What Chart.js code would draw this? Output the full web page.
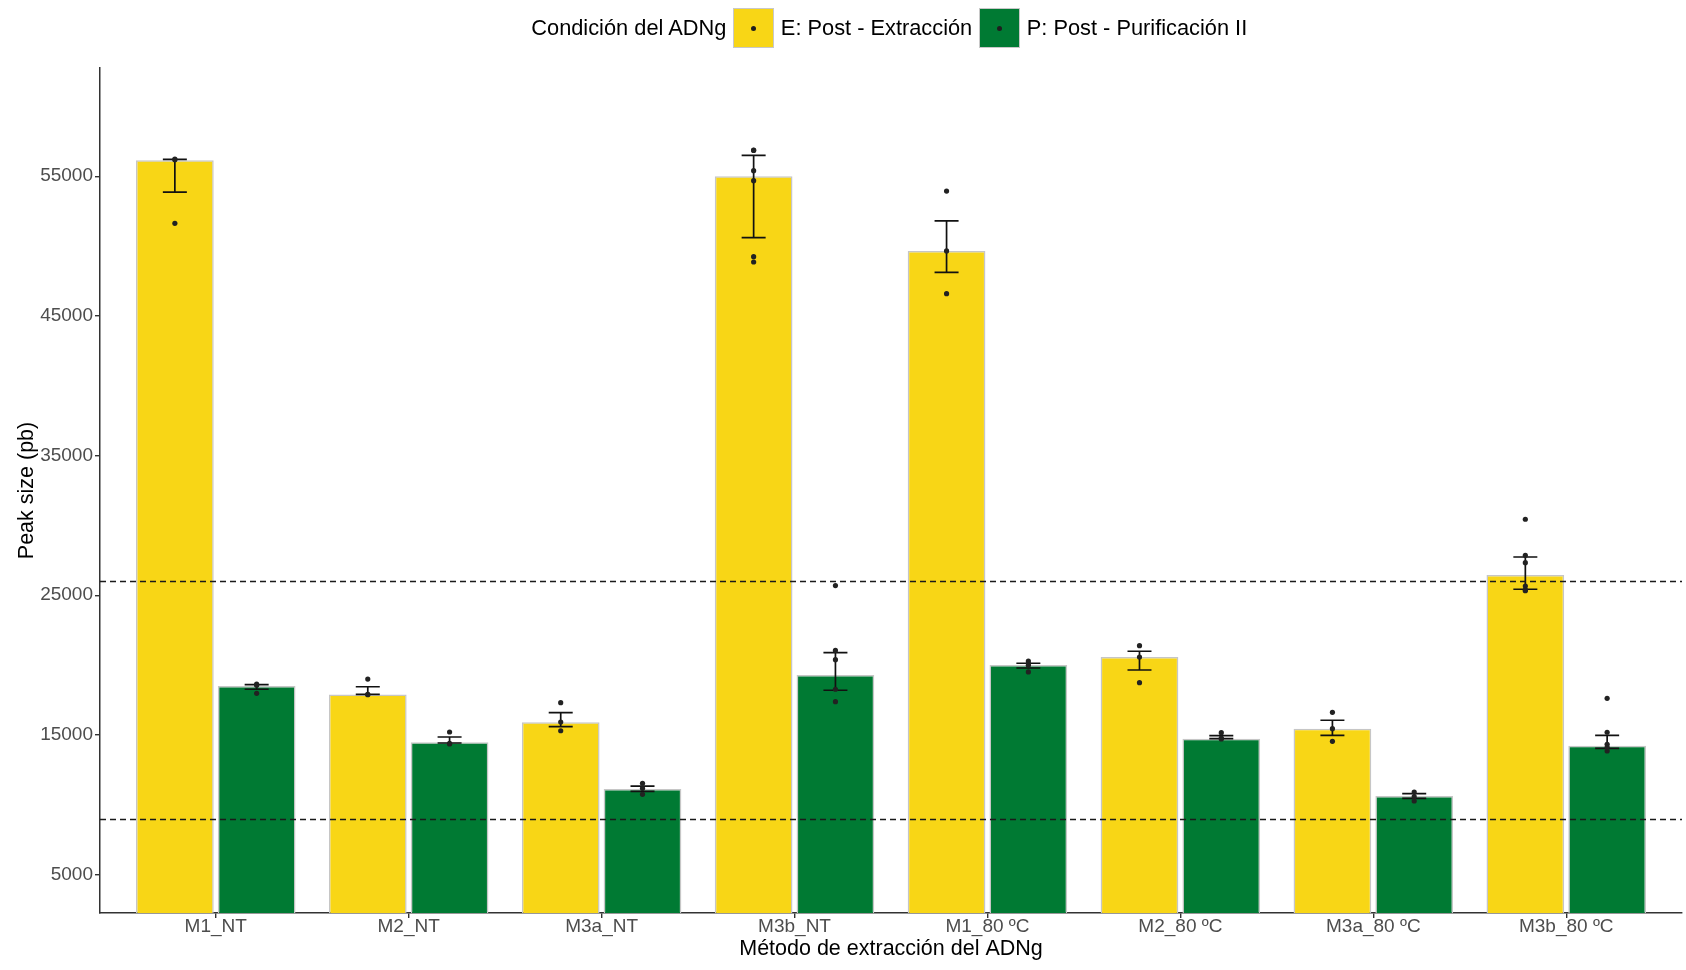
<!DOCTYPE html>
<html lang="es">
<head>
<meta charset="utf-8">
<title>Peak size según método de extracción del ADNg</title>
<script src="https://cdn.jsdelivr.net/npm/chart.js@4/dist/chart.umd.min.js"></script>
<style>
  html, body { margin: 0; padding: 0; background: #ffffff; }
  #wrap { position: relative; width: 1686px; height: 970px; font-family: 'Liberation Sans', Arial, sans-serif; }
  #legend {
    position: absolute; left: 100px; top: 8px; width: 1585px; height: 40px;
    display: flex; justify-content: center; align-items: center;
    font-size: 21.8px; color: #000; white-space: nowrap;
  }
  #legend .title { margin-right: 6.5px; }
  #legend .key {
    position: relative; width: 41px; height: 40px; box-sizing: border-box;
    border: 1.5px solid #c8c8c8; margin-right: 7px;
  }
  #legend .key::after {
    content: ''; position: absolute; left: 50%; top: 50%; width: 5px; height: 5px;
    margin: -2.5px 0 0 -2.5px; border-radius: 50%; background: #1e1e1e;
  }
  #legend .label { margin-right: 6.5px; }
  canvas { display: block; }
</style>
</head>
<body>
<div id="wrap">
  <canvas id="chart" width="1686" height="970"></canvas>
  <div id="legend"></div>
</div>
<script>
// Métodos de extracción (eje x)
const categories = ['M1_NT', 'M2_NT', 'M3a_NT', 'M3b_NT', 'M1_80 ºC', 'M2_80 ºC', 'M3a_80 ºC', 'M3b_80 ºC'];

// Marcas del eje y
const yTicks = [5000, 15000, 25000, 35000, 45000, 55000];

// Condición E: Post - Extracción
const extractionBar  = [56150, 17900, 15900, 55000, 49650, 20580, 15450, 26450];
const extractionLow  = [53870, 17900, 15590, 50600, 48120, 19650, 14970, 25430];
const extractionHigh = [56210, 18450, 16590, 56500, 51800, 20990, 16050, 27740];
const extractionReps = [
  [56230, 56180, 51630],
  [19000, 17910, 17880],
  [17310, 15920, 15300],
  [56880, 56850, 55400, 54680, 49240, 48860],
  [53940, 49650, 46590],
  [21390, 20580, 18740],
  [16620, 15450, 14540],
  [30440, 27860, 27330, 25660, 25380, 25330]
];

// Condición P: Post - Purificación II
const purificationBar  = [18500, 14470, 11130, 19290, 20000, 14730, 10630, 14230];
const purificationLow  = [18270, 14420, 10960, 18200, 19790, 14730, 10460, 14040];
const purificationHigh = [18600, 14850, 11340, 20890, 20130, 14950, 10790, 14970];
const purificationReps = [
  [18630, 18550, 17980],
  [15210, 14400, 14350],
  [11540, 11180, 10750],
  [25690, 21050, 20390, 18270, 17380],
  [20290, 20130, 19990, 19510],
  [15160, 14780, 14710],
  [10910, 10580, 10270],
  [17620, 15190, 14330, 14110, 13850]
];

// Umbrales de referencia (líneas discontinuas)
const referenceLines = [9000, 26000];

const conditions = ['E: Post - Extracción', 'P: Post - Purificación II'];
const conditionColors = ['#F8D616', '#007A33'];

// Ancho del grupo de barras dentro de cada categoría
const CATEGORY_PCT = 0.848;
const BAR_PCT = 0.95;
const slotShift = CATEGORY_PCT / 4;

Chart.defaults.font.family = "'Liberation Sans', Arial, sans-serif";

const barPoints = (values) => values.map((v, i) => ({ x: i + 1, y: v }));
const repPoints = (reps, shift) => reps.flatMap((list, i) => list.map(v => ({ x: i + 1 + shift, y: v })));

// Barras de error (sobre cada barra) dibujadas con las escalas del gráfico
const errorBarPlugin = {
  id: 'errorBars',
  afterDatasetDraw(chart, args) {
    const ds = chart.data.datasets[args.index];
    if (!ds.errorLow) return;
    const { ctx } = chart;
    const yScale = chart.scales.y;
    ctx.save();
    ctx.strokeStyle = '#111111';
    ctx.lineWidth = 1.7;
    args.meta.data.forEach((bar, i) => {
      const x = bar.x;
      const yl = yScale.getPixelForValue(ds.errorLow[i]);
      const yh = yScale.getPixelForValue(ds.errorHigh[i]);
      const cap = 12;
      ctx.beginPath();
      ctx.moveTo(x, yl); ctx.lineTo(x, yh);
      ctx.moveTo(x - cap, yl); ctx.lineTo(x + cap, yl);
      ctx.moveTo(x - cap, yh); ctx.lineTo(x + cap, yh);
      ctx.stroke();
    });
    ctx.restore();
  }
};

// Líneas horizontales discontinuas
const referencePlugin = {
  id: 'referenceLines',
  afterDatasetsDraw(chart) {
    const { ctx, chartArea } = chart;
    const yScale = chart.scales.y;
    ctx.save();
    ctx.strokeStyle = '#1a1a1a';
    ctx.lineWidth = 1.4;
    ctx.setLineDash([6, 4]);
    referenceLines.forEach(v => {
      const y = Math.round(yScale.getPixelForValue(v)) + 0.5;
      ctx.beginPath();
      ctx.moveTo(chartArea.left, y);
      ctx.lineTo(chartArea.right, y);
      ctx.stroke();
    });
    ctx.restore();
  }
};

const barStyle = {
  type: 'bar',
  borderColor: '#c6c6c6',
  borderWidth: 1.5,
  borderSkipped: 'start',
  categoryPercentage: CATEGORY_PCT,
  barPercentage: BAR_PCT,
  order: 2
};
const pointStyle = {
  type: 'scatter',
  pointRadius: 2.6,
  pointBackgroundColor: '#222222',
  pointBorderWidth: 0,
  order: 0
};

new Chart(document.getElementById('chart'), {
  type: 'bar',
  data: {
    datasets: [
      { ...barStyle, label: conditions[0], data: barPoints(extractionBar), backgroundColor: conditionColors[0],
        errorLow: extractionLow, errorHigh: extractionHigh },
      { ...barStyle, label: conditions[1], data: barPoints(purificationBar), backgroundColor: conditionColors[1],
        errorLow: purificationLow, errorHigh: purificationHigh },
      { ...pointStyle, label: conditions[0] + ' (réplicas)', data: repPoints(extractionReps, -slotShift) },
      { ...pointStyle, label: conditions[1] + ' (réplicas)', data: repPoints(purificationReps, slotShift) }
    ]
  },
  options: {
    responsive: false,
    animation: false,
    devicePixelRatio: 1,
    layout: { padding: { top: 68, right: 1, bottom: 0, left: 0 } },
    plugins: { legend: { display: false }, tooltip: { enabled: false } },
    scales: {
      x: {
        type: 'linear',
        min: 0.4,
        max: 8.6,
        offset: false,
        afterBuildTicks: (scale) => { scale.ticks = categories.map((_, i) => ({ value: i + 1 })); },
        afterFit: (scale) => { scale.height = 57; },
        ticks: {
          autoSkip: false,
          maxRotation: 0,
          color: '#4d4d4d',
          font: { size: 19, lineHeight: 1 },
          padding: -1,
          callback: (v) => categories[Math.round(v) - 1] ?? ''
        },
        grid: { display: true, drawOnChartArea: false, drawTicks: true, tickLength: 5, color: '#333333', lineWidth: 1.4, offset: false },
        border: { display: true, color: '#333333', width: 1.5 },
        title: { display: true, text: 'Método de extracción del ADNg', color: '#000', font: { size: 21.5 }, padding: { top: 0, bottom: 8 } }
      },
      y: {
        type: 'linear',
        min: 2250,
        max: 62750,
        afterBuildTicks: (scale) => { scale.ticks = yTicks.map(v => ({ value: v })); },
        afterFit: (scale) => { scale.width = 100; },
        ticks: {
          color: '#4d4d4d',
          font: { size: 19 },
          padding: 2,
          callback: (v) => String(v)
        },
        grid: { display: true, drawOnChartArea: false, drawTicks: true, tickLength: 5, color: '#333333', lineWidth: 1.4 },
        border: { display: true, color: '#333333', width: 1.5 },
        title: { display: true, text: 'Peak size (pb)', color: '#000', font: { size: 21.5 }, padding: { top: 14, bottom: 0 } }
      }
    }
  },
  plugins: [errorBarPlugin, referencePlugin]
});

// Leyenda: título + clave de color por condición
const legend = document.getElementById('legend');
const legendTitle = document.createElement('span');
legendTitle.className = 'title';
legendTitle.textContent = 'Condición del ADNg';
legend.appendChild(legendTitle);
conditions.forEach((name, i) => {
  const key = document.createElement('span');
  key.className = 'key';
  key.style.background = conditionColors[i];
  const label = document.createElement('span');
  label.className = 'label';
  label.textContent = name;
  legend.appendChild(key);
  legend.appendChild(label);
});
</script>
</body>
</html>
